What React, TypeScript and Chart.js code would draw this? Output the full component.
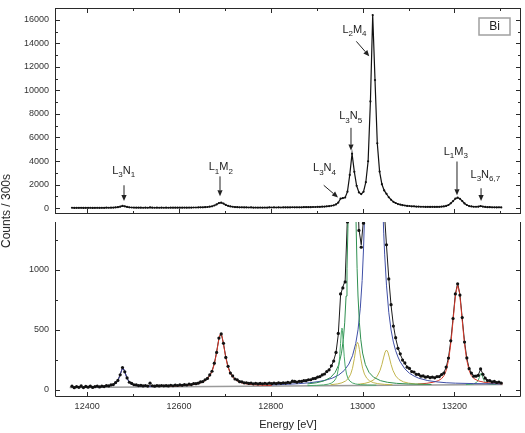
import React, { useEffect, useRef } from 'react';
import { Chart, registerables } from 'chart.js';

Chart.register(...registerables);

const FONT = "'Liberation Sans', Arial, Helvetica, sans-serif";

// ---------- measured spectrum (Energy [eV], Counts / 300s) ----------
const energy = [
  12367, 12372, 12377, 12382, 12387, 12392, 12397, 12402, 12407, 12412,
  12417, 12422, 12427, 12432, 12437, 12442, 12447, 12452, 12457, 12462,
  12467, 12472, 12477, 12482, 12487, 12492, 12497, 12502, 12507, 12512,
  12517, 12522, 12527, 12532, 12537, 12542, 12547, 12552, 12557, 12562,
  12567, 12572, 12577, 12582, 12587, 12592, 12597, 12602, 12607, 12612,
  12617, 12622, 12627, 12632, 12637, 12642, 12647, 12652, 12657, 12662,
  12667, 12672, 12677, 12682, 12687, 12692, 12697, 12702, 12707, 12712,
  12717, 12722, 12727, 12732, 12737, 12742, 12747, 12752, 12757, 12762,
  12767, 12772, 12777, 12782, 12787, 12792, 12797, 12802, 12807, 12812,
  12817, 12822, 12827, 12832, 12837, 12842, 12847, 12852, 12857, 12862,
  12867, 12872, 12877, 12882, 12887, 12892, 12897, 12902, 12907, 12912,
  12917, 12922, 12927, 12932, 12937, 12942, 12947, 12952, 12957, 12962,
  12967, 12972, 12977, 12982, 12987, 12992, 12997, 13002, 13007, 13012,
  13017, 13022, 13027, 13032, 13037, 13042, 13047, 13052, 13057, 13062,
  13067, 13072, 13077, 13082, 13087, 13092, 13097, 13102, 13107, 13112,
  13117, 13122, 13127, 13132, 13137, 13142, 13147, 13152, 13157, 13162,
  13167, 13172, 13177, 13182, 13187, 13192, 13197, 13202, 13207, 13212,
  13217, 13222, 13227, 13232, 13237, 13242, 13247, 13252, 13257, 13262,
  13267, 13272, 13277, 13282, 13287, 13292, 13297, 13302,
];

const counts = [
  30, 18, 27, 21, 33, 19, 28, 22, 30, 20,
  26, 31, 24, 30, 27, 35, 32, 41, 44, 60,
  78, 125, 186, 150, 99, 63, 53, 42, 41, 35,
  37, 32, 36, 31, 55, 34, 30, 35, 32, 36,
  33, 35, 32, 38, 34, 39, 36, 41, 37, 43,
  40, 47, 44, 52, 51, 55, 66, 69, 84, 95,
  124, 155, 222, 312, 432, 466, 388, 270, 196, 140,
  116, 90, 83, 68, 67, 58, 59, 53, 56, 50,
  54, 49, 53, 50, 54, 50, 55, 51, 56, 52,
  58, 54, 59, 56, 62, 59, 72, 70, 64, 71,
  70, 77, 76, 84, 84, 94, 95, 106, 110, 124,
  132, 152, 167, 200, 240, 312, 470, 800, 850, 900,
  1400, 2820, 4620, 3080, 1900, 1330, 1190, 1390, 2200, 3980,
  9060, 16400, 10880, 5510, 3100, 2030, 1500, 1210, 925, 710,
  532, 435, 346, 300, 248, 224, 189, 178, 152, 148,
  129, 128, 114, 116, 105, 110, 101, 106, 100, 110,
  110, 127, 140, 190, 265, 409, 595, 800, 884, 790,
  603, 398, 266, 176, 140, 114, 114, 121, 174, 130,
  97, 77, 76, 66, 70, 61, 65, 57,
];

// total fit (black line in the lower panel)
const fitTotal = [
  23, 23, 24, 24, 24, 24, 25, 25, 26, 26,
  27, 27, 28, 29, 31, 33, 35, 39, 46, 58,
  81, 128, 183, 154, 97, 66, 51, 44, 39, 37,
  35, 34, 33, 33, 33, 33, 33, 33, 33, 33,
  34, 34, 35, 35, 36, 37, 38, 38, 39, 41,
  42, 44, 46, 49, 53, 57, 63, 71, 81, 97,
  121, 158, 219, 315, 429, 470, 385, 274, 193, 143,
  113, 93, 80, 71, 65, 60, 57, 55, 53, 52,
  51, 51, 51, 51, 51, 52, 52, 53, 54, 54,
  55, 56, 57, 58, 60, 61, 63, 65, 67, 69,
  72, 74, 78, 81, 86, 91, 97, 103, 112, 121,
  134, 149, 169, 197, 244, 310, 460, 790, 860, 910,
  1447, 2860, 4650, 3094, 1916, 1340, 1210, 1420, 2216, 3996,
  9071, 16380, 10903, 5513, 3108, 2029, 1509, 1206, 932, 703,
  540, 429, 352, 295, 253, 219, 194, 173, 157, 145,
  133, 124, 118, 113, 109, 106, 104, 103, 104, 107,
  113, 123, 144, 186, 268, 405, 598, 796, 890, 796,
  598, 402, 263, 180, 137, 117, 111, 125, 171, 133,
  94, 80, 73, 69, 66, 64, 62, 60,
];

// background
const bgE = [12362, 13305];
const bgV = [19.9, 43.5];

// fitted components (each includes the background)
const l3n1E = [12420, 12430, 12440, 12448, 12454, 12460, 12464, 12468, 12471, 12474, 12476, 12478, 12480, 12482, 12485, 12488, 12492, 12496, 12502, 12510, 12520, 12535, 12550];
const l3n1V = [24.4, 25.9, 28.7, 32.7, 38.2, 48.8, 61.9, 85, 113.3, 150.7, 173.4, 182.8, 173.5, 150.9, 113.6, 85.5, 62.6, 49.7, 39.4, 33.0, 29.5, 27.4, 26.6];

const l1m2E = [12580, 12600, 12620, 12635, 12645, 12655, 12662, 12668, 12673, 12677, 12681, 12684, 12687, 12689, 12691, 12693, 12695, 12698, 12701, 12705, 12709, 12714, 12720, 12727, 12737, 12747, 12762, 12782, 12802];
const l1m2V = [30.5, 33.4, 38.6, 46, 55, 71.3, 91.7, 121.8, 163.1, 214.2, 287.6, 356.4, 424.1, 456.2, 468.2, 456.3, 424.3, 356.7, 288.1, 214.9, 164, 122.9, 93.2, 73.1, 57.3, 48.9, 42.1, 37.9, 36];

const l3n4E = [12880, 12900, 12915, 12925, 12932, 12938, 12942, 12945, 12948, 12950, 12952, 12954, 12955, 12956, 12958, 12960, 12962, 12965, 12968, 12972, 12978, 12985, 12995, 13010, 13030];
const l3n4V = [35, 37.3, 41.1, 47, 55.9, 72.5, 96.3, 130.5, 196.8, 274.6, 387.6, 496.2, 514.8, 496.3, 387.7, 274.9, 197.1, 131, 97, 73.4, 57, 48.5, 43.2, 40, 38.7];

const l3n5E = [12880, 12900, 12915, 12930, 12940, 12948, 12954, 12958, 12961, 12964, 12966, 12968, 12970, 12977, 12984, 12986, 12988, 12990, 12993, 12996, 13000, 13006, 13014, 13024, 13039, 13054, 13074, 13100, 13150];
const l3n5V = [49.1, 59, 73.2, 102.2, 143.4, 209.1, 305.4, 420.1, 558.9, 781.9, 1009.8, 1342.8, 1836, 4285, 1836, 1343, 1010, 782.5, 559.7, 421, 306.6, 210.5, 145.2, 104.6, 76.3, 62.8, 53.9, 48.5, 44.7];

const sat1E = [12930, 12945, 12955, 12963, 12969, 12974, 12978, 12982, 12985, 12987, 12989, 12991, 12993, 12996, 13000, 13004, 13009, 13015, 13023, 13033, 13048, 13065];
const sat1V = [42.3, 49, 58.4, 73.5, 95.7, 130.4, 179.9, 259.7, 336.1, 378.7, 395.6, 378.8, 336.3, 260.1, 180.5, 131.2, 96.7, 74.8, 60, 51.2, 45.3, 42.5];

const l2m4E = [12800, 12830, 12860, 12885, 12905, 12920, 12935, 12948, 12960, 12970, 12978, 12985, 12990, 12995, 12999, 13002, 13004, 13006, 13022, 13038, 13040, 13042, 13044, 13046, 13048, 13052, 13057, 13062, 13067, 13072, 13077, 13082, 13092, 13102, 13112, 13122, 13142, 13162, 13182, 13202, 13242, 13282, 13300];
const l2m4V = [40.8, 44.9, 51, 59.1, 69.2, 80.9, 98.8, 123.6, 161.4, 214.3, 284.5, 385.7, 500.4, 681.2, 912, 1175, 1419, 1748, 16236, 2641, 2165, 1805, 1526, 1307, 1132, 873, 647, 499, 398, 326, 274, 233, 175, 138, 115, 97, 77, 66, 59, 55.4, 51.9, 49.9, 49.4];

const sat2E = [12990, 13005, 13015, 13025, 13032, 13038, 13042, 13046, 13049, 13052, 13055, 13058, 13062, 13066, 13072, 13079, 13089, 13100, 13115, 13135];
const sat2V = [46.2, 54, 64.3, 85.2, 114.7, 161.8, 211, 273, 314.7, 332.2, 314.9, 273.3, 211.5, 162.5, 115.7, 86.6, 66.2, 55.75, 49.1, 45.3];

const l1m3E = [13120, 13140, 13155, 13165, 13172, 13177, 13182, 13187, 13191, 13194, 13197, 13200, 13203, 13207, 13211, 13214, 13217, 13220, 13223, 13227, 13232, 13237, 13242, 13252, 13267, 13287, 13305];
const l1m3V = [48, 54.4, 64.2, 76.6, 93.2, 116.3, 160.4, 244.6, 350.7, 455.7, 576.8, 701.9, 809, 871, 809.2, 702.2, 577.3, 456.4, 351.5, 245.6, 161.7, 117.8, 94.8, 74.2, 61.2, 53.8, 50.7];

const l3n67E = [13225, 13235, 13242, 13247, 13251, 13254, 13256, 13258, 13260, 13262, 13265, 13269, 13274, 13281, 13291];
const l3n67V = [43.6, 46, 50.4, 58.3, 74.3, 100.1, 124.2, 137.3, 124.3, 100.3, 74.6, 58.9, 51.3, 47.2, 45.3];

// ---------- axes ----------
const xRange = [12330, 13345];
const topYRange = [-500, 17000];
const botYRange = [-60, 1400];
const xMajorTicks = [12400, 12600, 12800, 13000, 13200];
const xMinorTicks = [12500, 12700, 12900, 13100, 13300];
const topYMajorTicks = [0, 2000, 4000, 6000, 8000, 10000, 12000, 14000, 16000];
const topYMinorTicks = [1000, 3000, 5000, 7000, 9000, 11000, 13000, 15000];
const botYMajorTicks = [0, 500, 1000];
const botYMinorTicks = [250, 750, 1250];

// ---------- annotations (label: [text, isSubscript] pieces) ----------
const annotations = [
  { parts: [['L', 0], ['3', 1], ['N', 0], ['1', 1]], lx: 12479.6, ly: 2907, a: [12480.3, 1940, 12480.3, 594] },
  { parts: [['L', 0], ['1', 1], ['M', 0], ['2', 1]], lx: 12691.1, ly: 3202, a: [12689.4, 2697, 12689.4, 1014] },
  { parts: [['L', 0], ['3', 1], ['N', 0], ['4', 1]], lx: 12917, ly: 3118, a: [12915.3, 1940, 12946.4, 905] },
  { parts: [['L', 0], ['3', 1], ['N', 0], ['5', 1]], lx: 12974, ly: 7535, a: [12974.7, 6820, 12974.7, 4885] },
  { parts: [['L', 0], ['2', 1], ['M', 0], ['4', 1]], lx: 12982.3, ly: 14897, a: [12986.3, 14165, 13014.6, 12903] },
  { parts: [['L', 0], ['1', 1], ['M', 0], ['3', 1]], lx: 13203, ly: 4548, a: [13205.6, 3959, 13205.6, 1099] },
  { parts: [['L', 0], ['3', 1], ['N', 0], ['6,7', 1]], lx: 13267.3, ly: 2571, a: [13258, 1687, 13258, 594] },
];

function pts(xs: number[], ys: number[]) {
  return xs.map((x, i) => ({ x, y: ys[i] }));
}

function tickMarks(ctx: CanvasRenderingContext2D, chart: any, yMajor: number[], yMinor: number[], withTop: boolean) {
  const a = chart.chartArea;
  const xs = chart.scales.x;
  const ys = chart.scales.y;
  ctx.beginPath();
  const xl: [number[], number][] = [[xMajorTicks, 5], [xMinorTicks, 3]];
  for (const [vals, len] of xl) {
    for (const v of vals) {
      const px = Math.round(xs.getPixelForValue(v)) + 0.5;
      if (px < a.left || px > a.right) continue;
      ctx.moveTo(px, a.bottom);
      ctx.lineTo(px, a.bottom - len);
      if (withTop) {
        ctx.moveTo(px, a.top);
        ctx.lineTo(px, a.top + len);
      }
    }
  }
  const yl: [number[], number][] = [[yMajor, 5], [yMinor, 3]];
  for (const [vals, len] of yl) {
    for (const v of vals) {
      const py = Math.round(ys.getPixelForValue(v)) + 0.5;
      if (py < a.top || py > a.bottom) continue;
      ctx.moveTo(a.left, py);
      ctx.lineTo(a.left + len, py);
      ctx.moveTo(a.right, py);
      ctx.lineTo(a.right - len, py);
    }
  }
  ctx.stroke();
}

function drawLabel(ctx: CanvasRenderingContext2D, parts: any[], cx: number, baseY: number) {
  const mainFont = `11px ${FONT}`;
  const subFont = `8px ${FONT}`;
  let w = 0;
  for (const [t, sub] of parts) {
    ctx.font = sub ? subFont : mainFont;
    w += ctx.measureText(t).width;
  }
  let x = cx - w / 2;
  ctx.textAlign = 'left';
  ctx.textBaseline = 'alphabetic';
  for (const [t, sub] of parts) {
    ctx.font = sub ? subFont : mainFont;
    ctx.fillText(t, x, sub ? baseY + 3.5 : baseY);
    x += ctx.measureText(t).width;
  }
}

function drawArrow(ctx: CanvasRenderingContext2D, x1: number, y1: number, x2: number, y2: number) {
  const ang = Math.atan2(y2 - y1, x2 - x1);
  const L = 6;
  const W = 2.6;
  const bx = x2 - L * Math.cos(ang);
  const by = y2 - L * Math.sin(ang);
  ctx.beginPath();
  ctx.moveTo(x1, y1);
  ctx.lineTo(bx, by);
  ctx.stroke();
  ctx.beginPath();
  ctx.moveTo(x2, y2);
  ctx.lineTo(bx + W * Math.sin(ang), by - W * Math.cos(ang));
  ctx.lineTo(bx - W * Math.sin(ang), by + W * Math.cos(ang));
  ctx.closePath();
  ctx.fill();
}

const topDecor = {
  id: 'topDecor',
  afterDraw(chart: any) {
    const { ctx, chartArea: a } = chart;
    const xs = chart.scales.x;
    const ys = chart.scales.y;
    ctx.save();
    ctx.strokeStyle = '#2a2a2a';
    ctx.lineWidth = 1;
    ctx.strokeRect(a.left + 0.5, a.top + 0.5, a.right - a.left - 1, a.bottom - a.top - 1);
    tickMarks(ctx, chart, topYMajorTicks, topYMinorTicks, true);

    ctx.fillStyle = '#222';
    ctx.strokeStyle = '#222';
    ctx.lineWidth = 1;
    for (const an of annotations) {
      drawLabel(ctx, an.parts, xs.getPixelForValue(an.lx), ys.getPixelForValue(an.ly));
      const [ex1, ey1, ex2, ey2] = an.a;
      drawArrow(ctx, xs.getPixelForValue(ex1), ys.getPixelForValue(ey1), xs.getPixelForValue(ex2), ys.getPixelForValue(ey2));
    }

    // "Bi" box
    const bx = a.right - 42;
    const by = a.top + 10;
    ctx.strokeStyle = '#a0a0a0';
    ctx.lineWidth = 1.5;
    ctx.strokeRect(bx, by, 31, 17);
    ctx.fillStyle = '#222';
    ctx.font = `12px ${FONT}`;
    ctx.textAlign = 'center';
    ctx.textBaseline = 'middle';
    ctx.fillText('Bi', bx + 15.5, by + 9);
    ctx.restore();
  },
};

const botDecor = {
  id: 'botDecor',
  afterDraw(chart: any) {
    const { ctx, chartArea: a } = chart;
    ctx.save();
    ctx.strokeStyle = '#2a2a2a';
    ctx.lineWidth = 1;
    ctx.beginPath();
    ctx.moveTo(a.left + 0.5, a.top);
    ctx.lineTo(a.left + 0.5, a.bottom - 0.5);
    ctx.lineTo(a.right - 0.5, a.bottom - 0.5);
    ctx.lineTo(a.right - 0.5, a.top);
    ctx.stroke();
    tickMarks(ctx, chart, botYMajorTicks, botYMinorTicks, false);
    ctx.restore();
  },
};

function zeroPad(s: any) {
  s.paddingTop = 0;
  s.paddingBottom = 0;
  s.paddingLeft = 0;
  s.paddingRight = 0;
}

const plainNumber = (v: any) => String(v);

function yScale(range: number[], major: number[]) {
  return {
    type: 'linear',
    min: range[0],
    max: range[1],
    grid: { display: false, drawTicks: false },
    border: { display: false },
    ticks: {
      font: { family: FONT, size: 9 },
      color: '#333',
      padding: 6,
      callback: plainNumber,
    },
    afterBuildTicks: (s: any) => {
      s.ticks = major.map((v) => ({ value: v }));
    },
    afterFit: (s: any) => {
      s.width = 55;
      zeroPad(s);
    },
  };
}

function line(data: any[], color: string, width = 1) {
  return {
    data,
    borderColor: color,
    backgroundColor: color,
    borderWidth: width,
    pointRadius: 0,
    tension: 0,
    fill: false,
    clip: 0,
  };
}

export default function App() {
  const topRef = useRef<HTMLCanvasElement>(null);
  const botRef = useRef<HTMLCanvasElement>(null);

  useEffect(() => {
    const spectrum = pts(energy, counts);

    const top = new Chart(topRef.current as HTMLCanvasElement, {
      type: 'line',
      data: {
        datasets: [
          {
            data: spectrum,
            borderColor: '#111',
            backgroundColor: '#111',
            borderWidth: 1.2,
            pointRadius: 1.1,
            pointBorderWidth: 0,
            tension: 0,
            fill: false,
          },
        ],
      },
      options: {
        responsive: false,
        animation: false,
        layout: { padding: { left: 0, right: 4, top: 8, bottom: 2 } },
        plugins: { legend: { display: false }, tooltip: { enabled: false } },
        scales: {
          x: { type: 'linear', min: xRange[0], max: xRange[1], display: false },
          y: yScale(topYRange, topYMajorTicks) as any,
        },
      },
      plugins: [topDecor],
    } as any);

    const bot = new Chart(botRef.current as HTMLCanvasElement, {
      type: 'line',
      data: {
        datasets: [
          {
            data: spectrum,
            showLine: false,
            pointRadius: 1.6,
            pointBorderWidth: 0,
            pointBackgroundColor: '#111',
            borderColor: '#111',
            clip: 0,
          },
          line(pts(l3n1E, l3n1V), '#40409a', 1),
          line(pts(l1m2E, l1m2V), '#d8382a', 1),
          line(pts(l3n4E, l3n4V), '#4aa86a', 1),
          line(pts(l3n5E, l3n5V), '#2f8f50', 1),
          line(pts(sat1E, sat1V), '#c2b54e', 1),
          line(pts(l2m4E, l2m4V), '#3f4fa6', 1),
          line(pts(sat2E, sat2V), '#c2b54e', 1),
          line(pts(l1m3E, l1m3V), '#d8382a', 1),
          line(pts(l3n67E, l3n67V), '#4aa86a', 1),
          line(pts(energy, fitTotal), '#1a1a1a', 1),
          line(pts(bgE, bgV), '#9a9a9a', 1.5),
        ],
      },
      options: {
        responsive: false,
        animation: false,
        layout: { padding: { left: 0, right: 4, top: 2, bottom: 0 } },
        plugins: { legend: { display: false }, tooltip: { enabled: false } },
        scales: {
          x: {
            type: 'linear',
            min: xRange[0],
            max: xRange[1],
            grid: { display: false, drawTicks: false },
            border: { display: false },
            ticks: { font: { family: FONT, size: 9 }, color: '#333', padding: 4, callback: plainNumber },
            afterBuildTicks: (s: any) => {
              s.ticks = xMajorTicks.map((v) => ({ value: v }));
            },
            afterFit: (s: any) => {
              s.height = 36;
              zeroPad(s);
            },
            title: {
              display: true,
              text: 'Energy [eV]',
              font: { family: FONT, size: 11 },
              color: '#222',
              padding: { top: 0, bottom: 1 },
            },
          },
          y: yScale(botYRange, botYMajorTicks) as any,
        },
      },
      plugins: [botDecor],
    } as any);

    return () => {
      top.destroy();
      bot.destroy();
    };
  }, []);

  return (
    <div style={{ position: 'absolute', left: 0, top: 0, width: 525, height: 433, background: '#fff', overflow: 'hidden' }}>
      <canvas ref={topRef} width={525} height={218} style={{ position: 'absolute', left: 0, top: 0, display: 'block' }} />
      <canvas ref={botRef} width={525} height={215} style={{ position: 'absolute', left: 0, top: 218, display: 'block' }} />
      <div
        style={{
          position: 'absolute',
          left: 6,
          top: 211,
          transform: 'translate(-50%, -50%) rotate(-90deg)',
          whiteSpace: 'nowrap',
          fontFamily: FONT,
          fontSize: 12,
          lineHeight: 1,
          color: '#222',
        }}
      >
        Counts / 300s
      </div>
    </div>
  );
}
